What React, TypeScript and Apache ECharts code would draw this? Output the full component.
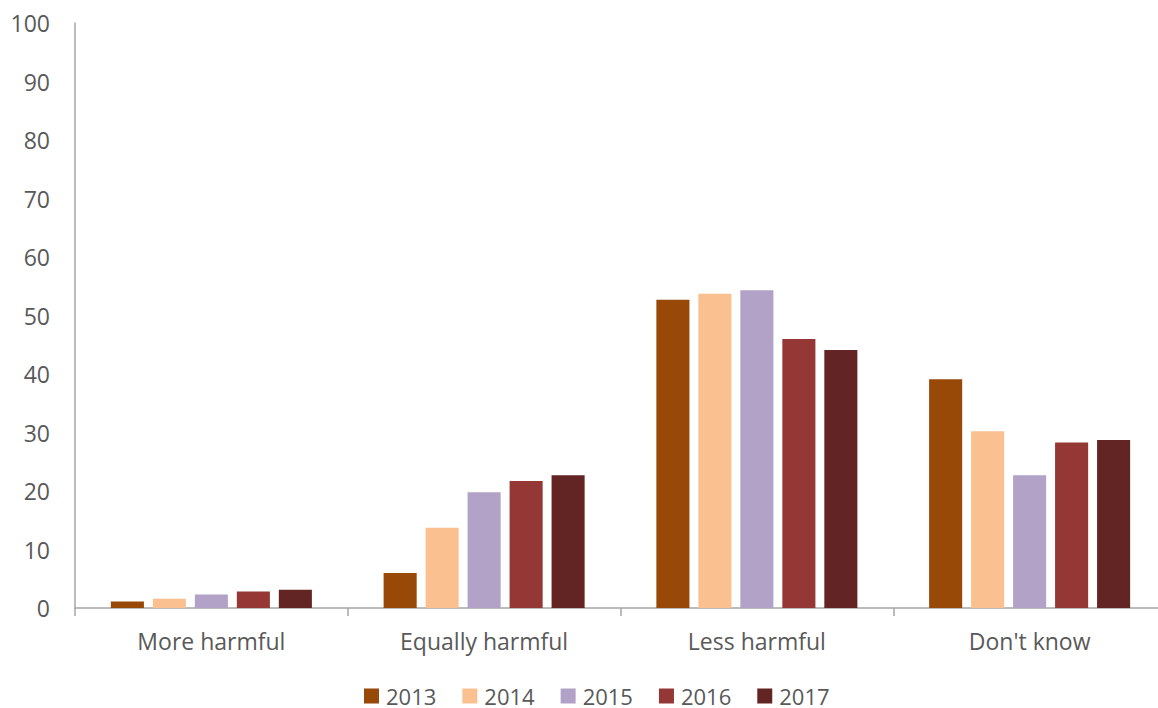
import React, { useEffect, useRef } from "react";
import * as echarts from "echarts";

const categories = ["More harmful", "Equally harmful", "Less harmful", "Don't know"];
const years = ["2013", "2014", "2015", "2016", "2017"];
const colors = ["#984807", "#FAC090", "#B3A2C7", "#953735", "#632523"];
const v2013 = [1.1, 6.0, 52.7, 39.1];
const v2014 = [1.6, 13.7, 53.7, 30.2];
const v2015 = [2.3, 19.8, 54.3, 22.7];
const v2016 = [2.8, 21.7, 46.0, 28.3];
const v2017 = [3.1, 22.7, 44.1, 28.7];
const seriesValues = [v2013, v2014, v2015, v2016, v2017];
const yTicks = { min: 0, max: 100, interval: 10 };

const FONT = "'Open Sans', 'Liberation Sans', sans-serif";

export default function App() {
  const ref = useRef<HTMLDivElement>(null);
  useEffect(() => {
    if (!ref.current) return;
    const chart = echarts.init(ref.current, undefined, { renderer: "svg" });
    chart.setOption({
      animation: false,
      backgroundColor: "#ffffff",
      grid: { left: 75, right: 0, top: 23, bottom: 100, containLabel: false },
      legend: {
        left: 359,
        top: 685,
        padding: [0, 5, 0, 5],
        itemWidth: 15,
        itemHeight: 15,
        itemGap: 26,
        icon: "rect",
        textStyle: { fontFamily: FONT, fontSize: 22, lineHeight: 18, color: "#595959", padding: [0, 0, 0, 2] },
        data: years,
      },
      xAxis: {
        type: "category",
        data: categories,
        axisLine: { lineStyle: { color: "#A6A6A6", width: 1.5 } },
        axisTick: { show: true, length: 8, lineStyle: { color: "#A6A6A6", width: 1.5 } },
        axisLabel: { fontFamily: FONT, fontSize: 23, color: "#595959", margin: 21 },
      },
      yAxis: {
        type: "value",
        min: yTicks.min,
        max: yTicks.max,
        interval: yTicks.interval,
        axisLine: { show: true, lineStyle: { color: "#A6A6A6", width: 1.5 } },
        axisTick: { show: false },
        splitLine: { show: false },
        axisLabel: { fontFamily: FONT, fontSize: 23, color: "#595959", margin: 25 },
      },
      series: years.map((y, i) => ({
        name: y,
        type: "bar",
        data: seriesValues[i],
        barGap: "27%",
        barCategoryGap: "26.3%",
        itemStyle: { color: colors[i] },
      })),
    });
    return () => chart.dispose();
  }, []);
  return (
    <div style={{ width: 1158, height: 708, position: "absolute", left: 0, top: 0, overflow: "hidden", background: "#fff" }}>
      <div ref={ref} style={{ width: 1166, height: 708, position: "absolute", left: 0, top: 0 }} />
    </div>
  );
}
